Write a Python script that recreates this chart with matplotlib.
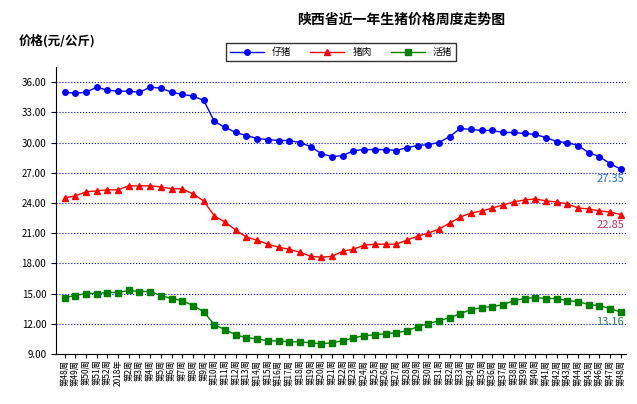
import matplotlib.pyplot as plt

plt.rcParams['font.family'] = ['Noto Sans CJK SC', 'DejaVu Sans']

weeks = ['第48周', '第49周', '第50周', '第51周', '第52周', '2018年'] + ['第%d周' % i for i in range(2, 49)]

piglet = [35.0, 34.9, 35.0, 35.5, 35.2, 35.1, 35.1, 35.0, 35.5, 35.4,
          35.0, 34.8, 34.6, 34.2, 32.1, 31.5, 31.0, 30.7, 30.4, 30.3,
          30.2, 30.2, 30.0, 29.6, 28.9, 28.6, 28.7, 29.2, 29.3, 29.3,
          29.3, 29.2, 29.5, 29.7, 29.8, 30.0, 30.6, 31.4, 31.3, 31.2,
          31.2, 31.0, 31.0, 30.9, 30.8, 30.5, 30.1, 30.0, 29.7, 29.0,
          28.6, 27.9, 27.35]
pork = [24.5, 24.7, 25.1, 25.2, 25.3, 25.3, 25.7, 25.7, 25.7, 25.6,
        25.4, 25.4, 24.9, 24.2, 22.7, 22.1, 21.3, 20.6, 20.3, 19.9,
        19.6, 19.4, 19.1, 18.7, 18.6, 18.7, 19.2, 19.4, 19.8, 19.9,
        19.9, 19.9, 20.3, 20.7, 21.0, 21.4, 22.0, 22.6, 23.0, 23.2,
        23.5, 23.8, 24.1, 24.3, 24.4, 24.2, 24.1, 23.9, 23.5, 23.4,
        23.2, 23.1, 22.85]
live = [14.6, 14.8, 15.0, 15.0, 15.1, 15.1, 15.3, 15.2, 15.2, 14.8,
        14.5, 14.3, 13.8, 13.2, 11.9, 11.4, 10.9, 10.6, 10.5, 10.3,
        10.3, 10.2, 10.2, 10.1, 10.0, 10.1, 10.3, 10.6, 10.8, 10.9,
        11.0, 11.1, 11.3, 11.7, 12.0, 12.3, 12.6, 13.0, 13.4, 13.6,
        13.7, 13.9, 14.3, 14.5, 14.6, 14.5, 14.5, 14.3, 14.2, 13.9,
        13.8, 13.5, 13.16]

fig = plt.figure(figsize=(6.37, 4.04), dpi=100)
ax = fig.add_axes([0.088, 0.124, 0.895, 0.71])
x = range(len(weeks))

ax.plot(x, piglet, color='#0000FF', marker='o', markersize=4, lw=1, label='仔猪')
ax.plot(x, pork, color='#FF0000', marker='^', markersize=5, lw=1, label='猪肉')
ax.plot(x, live, color='#008000', marker='s', markersize=4, lw=1, label='活猪')

ax.set_ylim(9, 37.5)
ax.set_yticks([9 + 3 * i for i in range(10)])
ax.set_yticklabels(['%.2f' % (9 + 3 * i) for i in range(10)], fontsize=7)
ax.set_xlim(-0.8, len(weeks) - 0.5)
ax.set_xticks(list(x))
ax.set_xticklabels(weeks, rotation=90, fontsize=6)
ax.tick_params(axis='x', length=3, pad=1)
ax.grid(axis='y', color='#0000FF', linestyle=':', lw=0.8)
ax.spines['top'].set_visible(False)
ax.spines['right'].set_visible(False)

last = len(weeks) - 1
ax.text(last + 0.3, piglet[-1] - 0.5, '27.35', color='#1F6FBF', fontsize=8, ha='right', va='top')
ax.text(last + 0.3, pork[-1] - 0.5, '22.85', color='#C0306A', fontsize=8, ha='right', va='top')
ax.text(last + 0.3, live[-1] - 0.5, '13.16', color='#2E7D60', fontsize=8, ha='right', va='top')

fig.text(0.63, 0.95, '陕西省近一年生猪价格周度走势图', fontsize=10, fontweight='bold', ha='center', va='center')
fig.text(0.03, 0.9, '价格(元/公斤)', fontsize=9, fontweight='bold', ha='left', va='center')
ax.legend(loc='upper center', bbox_to_anchor=(0.5, 1.1), ncol=3, fontsize=7,
          frameon=True, fancybox=False, edgecolor='black', handlelength=3.5)

plt.savefig('out.png')
